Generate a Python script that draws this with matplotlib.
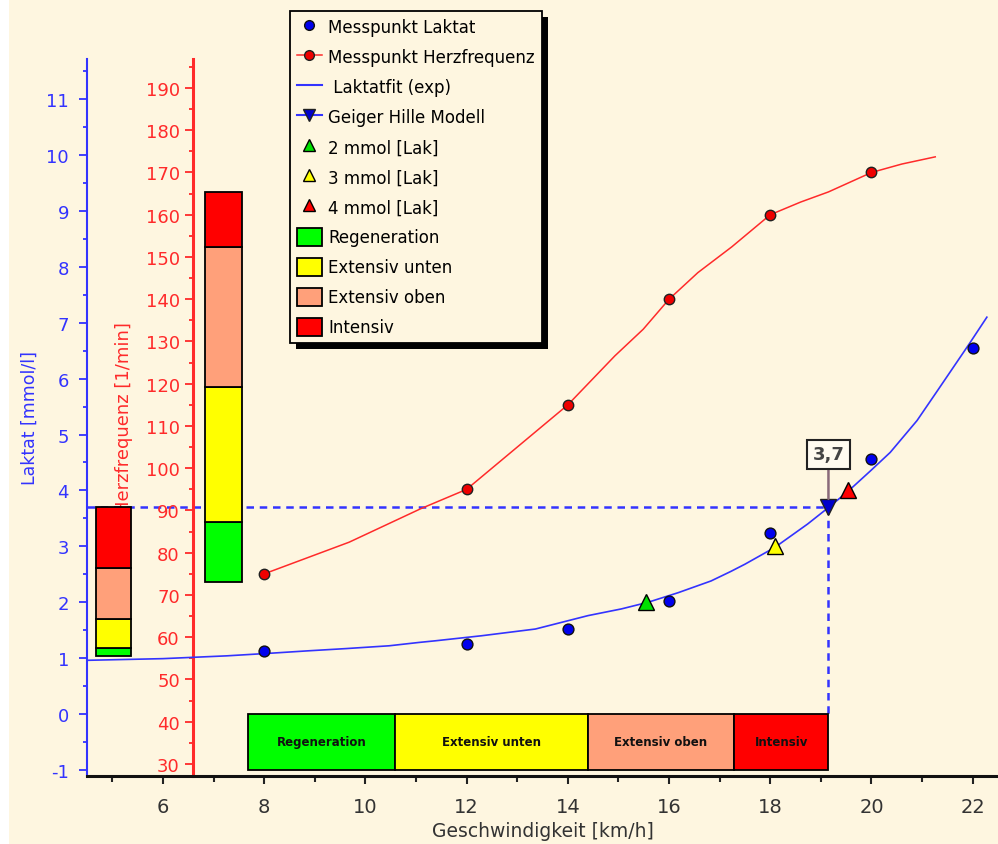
import matplotlib
matplotlib.use('Agg')
import matplotlib.pyplot as plt
from matplotlib.lines import Line2D
from matplotlib.patches import Patch, Rectangle
from matplotlib.ticker import MultipleLocator

plt.rcParams['axes.unicode_minus'] = False

# Messpunkte
speed_pts = [8, 12, 14, 16, 18, 20, 22]
lactate_pts = [1.13, 1.25, 1.52, 2.03, 3.24, 4.56, 6.55]
hr_speed = [8, 12, 14, 16, 18, 20]
hr_pts = [75, 95, 115, 140, 160, 170]

# Laktatfit (exp)
fit_speed = [4.5, 6.0, 7.26, 8.18, 8.87, 9.62, 10.47, 11.06, 11.39, 12.3, 13.36, 14.4, 15.06,
             15.59, 16.18, 16.83, 17.22, 17.5, 18.09, 18.74, 19.13, 19.52, 19.98, 20.37, 20.9,
             21.3, 21.69, 21.93, 22.28]
fit_lactate = [0.96, 0.99, 1.04, 1.09, 1.13, 1.17, 1.22, 1.28, 1.31, 1.40, 1.52, 1.76, 1.88,
               2.0, 2.17, 2.38, 2.55, 2.68, 2.98, 3.40, 3.68, 3.97, 4.35, 4.68, 5.25,
               5.78, 6.30, 6.62, 7.10]

# Herzfrequenz-Kurve
hr_fit_speed = [8, 9.68, 11.09, 12, 12.96, 14, 14.93, 15.49, 16, 16.57, 17.24, 18, 18.6,
                19.15, 20, 20.6, 21.26]
hr_fit = [75, 82.5, 90.4, 95, 104.6, 115, 126.6, 132.9, 140, 146.3, 152.4, 160, 163,
          165.4, 170, 172, 173.7]

# Schwellen
thr_speed = [15.55, 18.09, 19.54]
thr_lactate = [2, 3, 4]
thr_labels = ['2 mmol [Lak]', '3 mmol [Lak]', '4 mmol [Lak]']
thr_colors = ['#00E000', '#FFFF00', '#FF0000']
geiger_speed = 19.15
geiger_lactate = 3.7

# Trainingsbereiche
zone_names = ['Regeneration', 'Extensiv unten', 'Extensiv oben', 'Intensiv']
zone_colors = ['#00FF00', '#FFFF00', '#FFA07A', '#FF0000']
zone_speed = [7.68, 10.58, 14.40, 17.28, 19.15]
zone_lactate = [1.04, 1.18, 1.70, 2.61, 3.70]
zone_hr = [73.1, 87.3, 119.2, 152.4, 165.4]

bg = '#FEF6E0'
blue = '#3333FF'
red = '#FF2A2A'

fig = plt.figure(figsize=(9.98, 8.45), dpi=100, facecolor='white')
fig.patches.append(Rectangle((9 / 998, 0), 1, 1, transform=fig.transFigure,
                             facecolor=bg, edgecolor='none', zorder=-10))

ax = fig.add_axes([87 / 998, 68 / 845, 911 / 998, 717 / 845])
ax2 = ax.twinx()
ax.set_zorder(2)
ax.patch.set_visible(False)
ax2.patch.set_visible(False)

ax.set_xlim(4.5, 22.5)
ax.set_ylim(-1.11, 11.72)
ax2.set_ylim(27.16, 196.86)

# --- Herzfrequenz-Achse (unten liegend) ---
ax2.plot([4.5, geiger_speed], [geiger_lactate, geiger_lactate], transform=ax.transData,
         color=blue, lw=1.8, ls=(0, (3, 2.3)), zorder=1)
for i in range(4):
    ax2.bar(7.195, zone_hr[i + 1] - zone_hr[i], width=0.73, bottom=zone_hr[i],
            color=zone_colors[i], edgecolor='black', linewidth=1.3, zorder=3)
ax2.plot(hr_fit_speed, hr_fit, color=red, lw=1.1, zorder=4)
ax2.plot(hr_speed, hr_pts, 'o', color='#EE0000', mec='#202020', mew=1, ms=7.5, zorder=5)

ax2.spines['left'].set_position(('data', 6.595))
ax2.spines['left'].set_color(red)
ax2.spines['left'].set_linewidth(2.2)
for s in ['right', 'top', 'bottom']:
    ax2.spines[s].set_visible(False)
ax2.yaxis.set_ticks_position('left')
ax2.yaxis.set_label_position('left')
ax2.yaxis.set_major_locator(MultipleLocator(10))
ax2.yaxis.set_minor_locator(MultipleLocator(5))
ax2.tick_params(axis='y', which='major', colors=red, length=6, width=1.3, pad=3.5, labelsize=13)
ax2.tick_params(axis='y', which='minor', colors=red, length=3, width=1.3)
ax2.set_ylabel('Herzfrequenz [1/min]', color=red, fontsize=13)
ax2.yaxis.set_label_coords((133 - 87) / 911, 0.5)

# --- Laktat-Achse (oben liegend) ---
for i in range(4):
    ax.bar(5.025, zone_lactate[i + 1] - zone_lactate[i], width=0.69, bottom=zone_lactate[i],
           color=zone_colors[i], edgecolor='black', linewidth=1.3, zorder=3)

ax.plot(fit_speed, fit_lactate, color=blue, lw=1.2, zorder=4)
ax.plot(speed_pts, lactate_pts, 'o', color='#0000EE', mec='#101010', mew=1, ms=7.8, zorder=5)
ax.plot([geiger_speed, geiger_speed], [geiger_lactate, 0], color=blue, lw=1.8,
        ls=(0, (3, 2.3)), zorder=2)
for sx, sy, c in zip(thr_speed, thr_lactate, thr_colors):
    ax.plot(sx, sy, '^', color=c, mec='black', mew=1, ms=11, zorder=6)
ax.plot(geiger_speed, geiger_lactate, 'v', color='#0000CC', mec='#202020', mew=1, ms=11, zorder=6)

ax.annotate('3,7', xy=(geiger_speed, geiger_lactate + 0.15), xytext=(geiger_speed, 4.65),
            ha='center', va='center', fontsize=13, fontweight='bold', color='#444444',
            bbox=dict(boxstyle='square,pad=0.3', fc='#FFFBF0', ec='#222222', lw=1.5),
            arrowprops=dict(arrowstyle='-', color='#8A6A7A', lw=1.8, shrinkA=0, shrinkB=0),
            zorder=7)

for i in range(4):
    x0, x1 = zone_speed[i], zone_speed[i + 1]
    ax.add_patch(Rectangle((x0, -1), x1 - x0, 1, facecolor=zone_colors[i],
                           edgecolor='black', lw=1.3, zorder=8))
    ax.text((x0 + x1) / 2, -0.5, zone_names[i], ha='center', va='center', fontsize=8.5,
            fontweight='bold', color='#111111', zorder=9)

ax.spines['left'].set_color(blue)
ax.spines['left'].set_linewidth(1.5)
ax.spines['bottom'].set_color('#111111')
ax.spines['bottom'].set_linewidth(2.2)
ax.spines['right'].set_visible(False)
ax.spines['top'].set_visible(False)

ax.yaxis.set_major_locator(MultipleLocator(1))
ax.yaxis.set_minor_locator(MultipleLocator(0.5))
ax.xaxis.set_major_locator(MultipleLocator(2))
ax.xaxis.set_minor_locator(MultipleLocator(1))
ax.tick_params(axis='y', which='major', colors=blue, length=6, width=1.3, pad=7, labelsize=13)
ax.tick_params(axis='y', which='minor', colors=blue, length=3, width=1.3)
ax.tick_params(axis='x', which='major', colors='#222222', length=6, width=1.5, pad=9,
               labelsize=14)
ax.tick_params(axis='x', which='minor', colors='#222222', length=4, width=1.5)
for lab in ax.get_xticklabels():
    lab.set_color('#333333')

ax.set_ylabel('Laktat [mmol/l]', color=blue, fontsize=12.5)
ax.yaxis.set_label_coords((39 - 87) / 911, 0.5)
ax.set_xlabel('Geschwindigkeit [km/h]', color='#333333', fontsize=13.5)
ax.xaxis.set_label_coords(0.5, (777 - 822) / 717)
ax.xaxis.label.set_va('top')

handles = [
    Line2D([], [], ls='none', marker='o', color='#0000EE', mec='#101010', ms=7),
    Line2D([], [], color=red, marker='o', mfc='#EE0000', mec='#202020', ms=7, lw=1.1),
    Line2D([], [], color=blue, lw=1.5),
    Line2D([], [], color=blue, marker='v', mfc='#0000CC', mec='#202020', ms=9, lw=1.5),
]
labels = ['Messpunkt Laktat', 'Messpunkt Herzfrequenz', ' Laktatfit (exp)', 'Geiger Hille Modell']
for c, l in zip(thr_colors, thr_labels):
    handles.append(Line2D([], [], ls='none', marker='^', color=c, mec='black', ms=9))
    labels.append(l)
for c, n in zip(zone_colors, zone_names):
    handles.append(Patch(facecolor=c, edgecolor='black', lw=1.3))
    labels.append(n)

leg = fig.legend(handles, labels, loc='upper left', bbox_to_anchor=(290 / 998, 1 - 12 / 845),
                 borderaxespad=0, fontsize=12, frameon=True, fancybox=False,
                 facecolor=bg, edgecolor='black', framealpha=1,
                 handlelength=1.5, handleheight=1.3, handletextpad=0.4,
                 labelspacing=0.68, borderpad=0.4)
leg.get_frame().set_linewidth(1.3)
leg.set_zorder(20)

# Schatten der Legende
fig.canvas.draw()
bb = leg.get_window_extent().transformed(fig.transFigure.inverted())
fig.patches.append(Rectangle((bb.x0 + 6 / 998, bb.y0 - 6 / 845), bb.width, bb.height,
                             transform=fig.transFigure, facecolor='black',
                             edgecolor='none', zorder=19))

fig.savefig('out.png', dpi=100, facecolor=fig.get_facecolor())
